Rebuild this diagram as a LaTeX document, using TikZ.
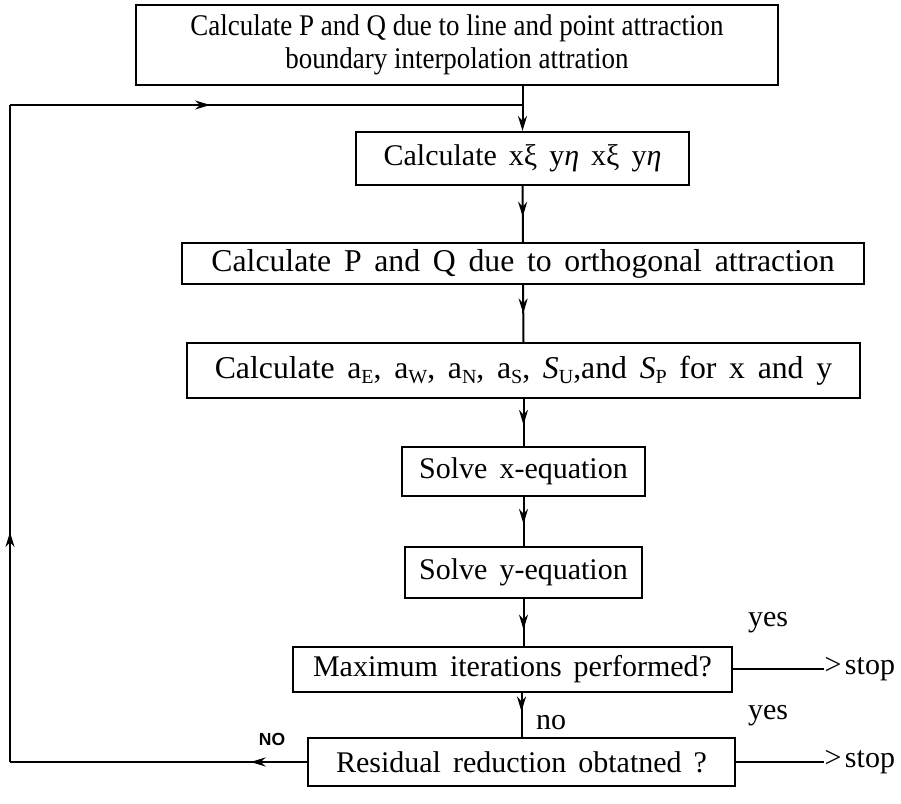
\documentclass[tikz,border=0pt]{standalone}
\usepackage{fontspec}
\usepackage{graphicx}
\setmainfont{Liberation Serif}[WordSpace=1.6]
\newfontfamily\plainserif{Liberation Serif}
\newfontfamily\labsans{Liberation Sans}
\usetikzlibrary{arrows.meta,decorations.markings,calc}
\newcommand\lowsub[1]{\raisebox{-0.35ex}{\fontsize{8}{8}\selectfont #1}}
\newcommand\narrowline[1]{\scalebox{0.9}[1]{#1}}
\begin{document}
\begin{tikzpicture}[x=0.4pt,y=-0.4pt,
  box/.style={draw, line width=0.8pt, inner sep=0pt, align=center, font=\fontsize{12}{13}\selectfont},
  bigtext/.style={font=\fontsize{12.7}{14}\selectfont},
  conn/.style={line width=0.8pt},
  tipend/.style={-{Stealth[length=6pt,width=3.6pt]}},
  midarrow/.style={postaction={decorate}, decoration={markings, mark=at position #1 with {\arrow{Stealth[length=6pt,width=3.6pt]}}}},
  lab/.style={inner sep=0pt, font=\fontsize{12}{13}\selectfont},
]
\useasboundingbox (0,0) rectangle (901,804);

\node[box, minimum width=256.8pt, minimum height=32pt, font=\plainserif\fontsize{12}{13}\selectfont] (b1) at (457,45)
  {\narrowline{Calculate P and Q due to line and point attraction}\\\narrowline{boundary interpolation attration}};
\node[box, minimum width=133.2pt, minimum height=21.2pt] (b2) at (522.5,158.5)
  {Calculate xξ y\textit{η} xξ y\textit{η}};
\node[box, bigtext, minimum width=272.8pt, minimum height=16.4pt] (b3) at (523,263.5)
  {Calculate P and Q due to orthogonal attraction};
\node[box, bigtext, minimum width=269.2pt, minimum height=22pt] (b4) at (523.5,370.5)
  {Calculate a\lowsub{E}, a\lowsub{W}, a\lowsub{N}, a\lowsub{S}, \textit{S}\lowsub{U},and \textit{S}\lowsub{P} for x and y};
\node[box, minimum width=97.2pt, minimum height=19.6pt] (b5) at (523.5,471.5)
  {Solve x-equation};
\node[box, minimum width=94.8pt, minimum height=20.4pt] (b6) at (523.5,572.5)
  {Solve y-equation};
\node[box, minimum width=175.6pt, minimum height=18pt] (b7) at (512.5,669.5)
  {Maximum iterations performed?};
\node[box, minimum width=170.8pt, minimum height=19.2pt] (b8) at (521.5,762)
  {Residual reduction obtatned ?};

% labels
\node[lab] (yes1) at (768,623) {yes};
\node[lab] (yes2) at (768,716) {yes};
\node[lab] (nolab) at (551,723) {no};
\node[inner sep=0pt, font=\labsans\bfseries\fontsize{7}{8}\selectfont] (NOlab) at (272,739) {NO};
\node[lab, anchor=west] (stop1) at (824,669.5) {>\hspace{0.12em}stop};
\node[lab, anchor=west] (stop2) at (824,762) {>\hspace{0.12em}stop};

% coordinates of the feedback loop
\coordinate (bl) at (10,762);
\coordinate (tl) at (10,105);
\coordinate (join) at (523,105);

% main flow
\draw[conn, tipend] (b2.north |- b1.south) -- (b2.north);
\draw[conn, midarrow=0.55] (b2.south) -- (b3.north);
\draw[conn, midarrow=0.5] (b3.south) -- (b4.north);
\draw[conn, midarrow=0.55] (b4.south) -- (b5.north);
\draw[conn, midarrow=0.55] (b5.south) -- (b6.north);
\draw[conn, midarrow=0.65] (b6.south) -- (b6.south |- b7.north);
\draw[conn, midarrow=0.42] (b8.north |- b7.south) -- (b8.north);

% yes branches
\draw[conn] (b7.east) -- (stop1.west);
\draw[conn] (b8.east) -- (stop2.west);

% feedback
\draw[conn, midarrow=0.19] (b8.west) -- (bl);
\draw[conn, midarrow=0.35] (bl) -- (tl);
\draw[conn, midarrow=0.39] (tl) -- (join);
\end{tikzpicture}
\end{document}
